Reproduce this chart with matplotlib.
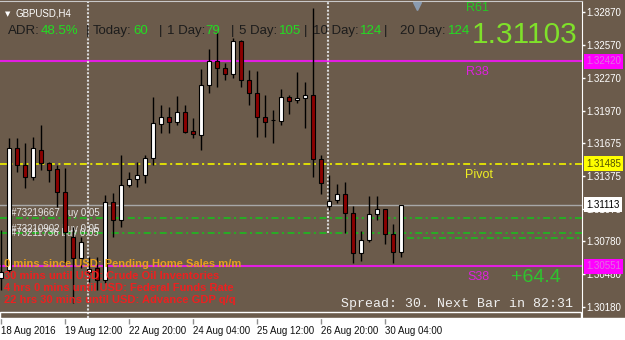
import matplotlib
matplotlib.use('Agg')
import matplotlib.pyplot as plt
from matplotlib.patches import Rectangle

plt.rcParams['font.family'] = ['Liberation Sans', 'DejaVu Sans']
plt.rcParams['lines.scale_dashes'] = False

W, H = 625, 340
BG = '#6b5b4b'

# GBPUSD H4 candles
bar_idx = list(range(-1, 50))
opens = [1.30444, 1.30517, 1.31630, 1.31475, 1.31365, 1.31611, 1.31493, 1.31438, 1.31228, 1.30818,
         1.30627, 1.30499, 1.30535, 1.30426, 1.31137, 1.30973, 1.31292, 1.31347, 1.31383, 1.31538,
         1.31849, 1.31912, 1.31867, 1.31958, 1.31785, 1.31748, 1.32204, 1.32423, 1.32359, 1.32305,
         1.32606, 1.32250, 1.32131, 1.31912, 1.31885, 1.31876, 1.32095, 1.32067, 1.32086, 1.32113,
         1.31529, 1.31101, 1.31155, 1.31210, 1.31037, 1.30672, 1.30791, 1.31028, 1.31073, 1.30845,
         1.30681]
highs = [1.30882, 1.31721, 1.31721, 1.31675, 1.31730, 1.31839, 1.31502, 1.31475, 1.31447, 1.30909,
         1.30818, 1.30636, 1.30636, 1.31201, 1.31219, 1.31566, 1.31411, 1.31502, 1.31566, 1.32095,
         1.32022, 1.32004, 1.32104, 1.32022, 1.31903, 1.32350, 1.32533, 1.32688, 1.32405, 1.32633,
         1.32615, 1.32341, 1.32332, 1.32113, 1.31976, 1.32168, 1.32113, 1.32323, 1.32232, 1.32907,
         1.31566, 1.31383, 1.31301, 1.31320, 1.31101, 1.30873, 1.31192, 1.31192, 1.31073, 1.30937,
         1.31113]
lows = [1.30335, 1.30499, 1.31411, 1.31265, 1.31338, 1.31429, 1.31320, 1.31092, 1.30563, 1.30216,
        1.30535, 1.30408, 1.30335, 1.30399, 1.30818, 1.30909, 1.31274, 1.31274, 1.31311, 1.31475,
        1.31767, 1.31767, 1.31839, 1.31767, 1.31721, 1.31611, 1.32131, 1.32186, 1.32250, 1.32268,
        1.32186, 1.32022, 1.31730, 1.31730, 1.31675, 1.31839, 1.31940, 1.32040, 1.31812, 1.31365,
        1.31210, 1.31064, 1.31128, 1.30855, 1.30581, 1.30599, 1.30772, 1.30973, 1.30754, 1.30581,
        1.30636]
closes = [1.30499, 1.31630, 1.31475, 1.31365, 1.31630, 1.31493, 1.31429, 1.31228, 1.30864, 1.30627,
          1.30772, 1.30526, 1.30426, 1.31137, 1.30973, 1.31292, 1.31347, 1.31383, 1.31538, 1.31858,
          1.31912, 1.31867, 1.31958, 1.31776, 1.31757, 1.32204, 1.32423, 1.32359, 1.32305, 1.32606,
          1.32250, 1.32131, 1.31912, 1.31867, 1.31885, 1.32095, 1.32058, 1.32086, 1.32113, 1.31529,
          1.31311, 1.31146, 1.31210, 1.31037, 1.30672, 1.30791, 1.31028, 1.31073, 1.30845, 1.30681,
          1.31113]

date_ticks = [-1, 7, 15, 23, 31, 39, 47]
date_labels = ['18 Aug 2016', '19 Aug 12:00', '22 Aug 20:00', '24 Aug 04:00',
               '25 Aug 12:00', '26 Aug 20:00', '30 Aug 04:00']
price_ticks = [1.32870, 1.32570, 1.32270, 1.31970, 1.31675, 1.31375,
               1.31075, 1.30780, 1.30480, 1.30180]

r38 = 1.32420
pivot = 1.31485
bid = 1.31113
s38 = 1.30551
order_levels = [1.30991, 1.30855, 1.30809]
order_from = [-1.125, -1.125, 49.75]
order_labels = ['#73219667 buy 0.05', '#73210902 buy 0.05', '#73211736 buy 0.05']
order_label_dy = [2, 1, 2]
sep_idx = [9.9, 39.9]
sep_low = [None, 1.30855]

adr_parts = [('ADR:', 'k'), ('48.5%', 'g'), ('|', 'k'), ('Today:', 'k'), ('60', 'g'),
             ('|', 'k'), ('1 Day:', 'k'), ('79', 'g'), ('|', 'k'), ('5 Day:', 'k'),
             ('105', 'g'), ('|', 'k'), ('10 Day:', 'k'), ('124', 'g'), ('|', 'k'),
             ('20 Day:', 'k'), ('124', 'g')]
adr_x = [8, 41, 86, 93, 133, 159, 167, 205, 231, 239, 279, 304, 313, 360, 384, 400, 448]

events = ['0 mins since USD: Pending Home Sales m/m',
          '30 mins until USD: Crude Oil Inventories',
          '4 hrs 0 mins until USD: Federal Funds Rate',
          '22 hrs 30 mins until USD: Advance GDP q/q']
event_colors = ['#e6a01e', '#ec2020', '#ec2020', '#ec2020']
event_y = [267, 279, 291, 303]

last_price = '1.31103'
pips = '+64.4'
spread_text = 'Spread: 30. Next Bar in 82:31'

DASHDOT = (0, (5, 2.5, 1.5, 2.5))

fig = plt.figure(figsize=(W / 100, H / 100), dpi=100, facecolor=BG)
fig.add_artist(Rectangle((0, 0), 1, 22 / H, transform=fig.transFigure,
                         color='white', zorder=-1))
ax = fig.add_axes([0, 22 / H, 582 / W, 317 / H])
ax.set_facecolor(BG)
k = 0.0000912
ax.set_xlim(-1.125, 71.625)
ax.set_ylim(1.32870 - 306 * k, 1.32870 + 11 * k)

# candles
for i, o, h, l, c in zip(bar_idx, opens, highs, lows, closes):
    up = c >= o
    ax.vlines(i, l, h, color='black', lw=1, zorder=3)
    ax.bar(i, abs(c - o), bottom=min(o, c), width=0.62,
           color='white' if up else '#8b0000', edgecolor='black', lw=0.8, zorder=4)

# levels
ax.axhline(r38, color='#e21ee2', lw=1.5, zorder=2)
ax.axhline(s38, color='#e21ee2', lw=1.5, zorder=2)
ax.axhline(pivot, color='#e8e800', lw=1.3, linestyle=DASHDOT, zorder=2)
ax.axhline(bid, color='#a8a8a8', lw=1, zorder=2)
for lv, x0 in zip(order_levels, order_from):
    ax.hlines(lv, x0, 71.625, color='#22b422', lw=1.3, linestyles=[DASHDOT], zorder=2)
for lab, lv, dy in zip(order_labels, order_levels, order_label_dy):
    ax.annotate(lab, xy=(0.3, lv), xytext=(0, dy), textcoords='offset pixels',
                fontsize=7, color='#e6e6e6', va='baseline', zorder=2.5)
for xi, lo in zip(sep_idx, sep_low):
    ymin = ax.get_ylim()[0] if lo is None else lo
    ax.vlines(xi, ymin, ax.get_ylim()[1], color='#d8d8d8', lw=1.5,
              linestyles=[(0, (1.5, 1.2))], zorder=2.2)

# frame
for s in ['left', 'bottom']:
    ax.spines[s].set_visible(False)
ax.spines['top'].set_color('#c8c8c8')
ax.spines['right'].set_color('white')
ax.add_patch(Rectangle((0, 0), 581 / 582, 6 / 317, transform=ax.transAxes,
                       fill=False, edgecolor='white', lw=1, clip_on=False, zorder=6))
ax.plot([51], [0.985], marker='v', color='#8a9bb0', markersize=6,
        transform=ax.get_xaxis_transform(), clip_on=False, zorder=6)

ax.yaxis.tick_right()
ax.set_yticks(price_ticks)
ax.set_yticklabels([f'{p:.5f}' for p in price_ticks])
ax.tick_params(axis='y', colors='white', labelsize=7, length=2.5, width=1, pad=0.8)
ax.set_xticks(date_ticks)
ax.set_xticklabels(date_labels, ha='left')
ax.tick_params(axis='x', colors='#909090', labelcolor='#101010', labelsize=7,
               length=4, width=1, pad=1.5)


def price_box(level, fc, tc):
    ax.text(586 / 582, level, f'{level:.5f}', transform=ax.get_yaxis_transform(),
            ha='left', va='center', fontsize=7, color=tc, clip_on=False, zorder=10,
            bbox=dict(boxstyle='square,pad=0.25', fc=fc, ec='none'))


price_box(r38, '#ff00ff', '#e070e0')
price_box(pivot, '#ffff00', '#505000')
price_box(bid, 'white', 'black')
price_box(s38, '#ff00ff', '#e070e0')


def ptext(x, y, s, **kw):
    fig.text(x / W, 1 - y / H, s, va='baseline', **kw)


ptext(5, 16, '\u25bc', fontsize=5, color='white', family=['DejaVu Sans'])
ptext(16, 17, 'GBPUSD,H4', fontsize=7, color='white')
for (s, c), x in zip(adr_parts, adr_x):
    ptext(x, 34, s, fontsize=9.5, color='#1c1c1c' if c == 'k' else '#22dd22')
ptext(578, 43, last_price, fontsize=21.5, color='#7fe12a', ha='right')
ptext(466, 11, 'R61', fontsize=9, color='#22cc22')
ptext(466, 75, 'R38', fontsize=9, color='#dd22dd')
ptext(465, 178, 'Pivot', fontsize=9, color='#eeee22')
ptext(467, 280, 'S38', fontsize=9, color='#dd22dd')
ptext(511, 282, pips, fontsize=14, color='#2ec42e')
ptext(341, 307, spread_text, fontsize=9.5, color='#f0f0f0', family=['Liberation Mono'])
for s, c, y in zip(events, event_colors, event_y):
    ptext(4, y, s, fontsize=8, color=c, fontweight='bold')

fig.savefig('out.png', dpi=100, facecolor=BG)
